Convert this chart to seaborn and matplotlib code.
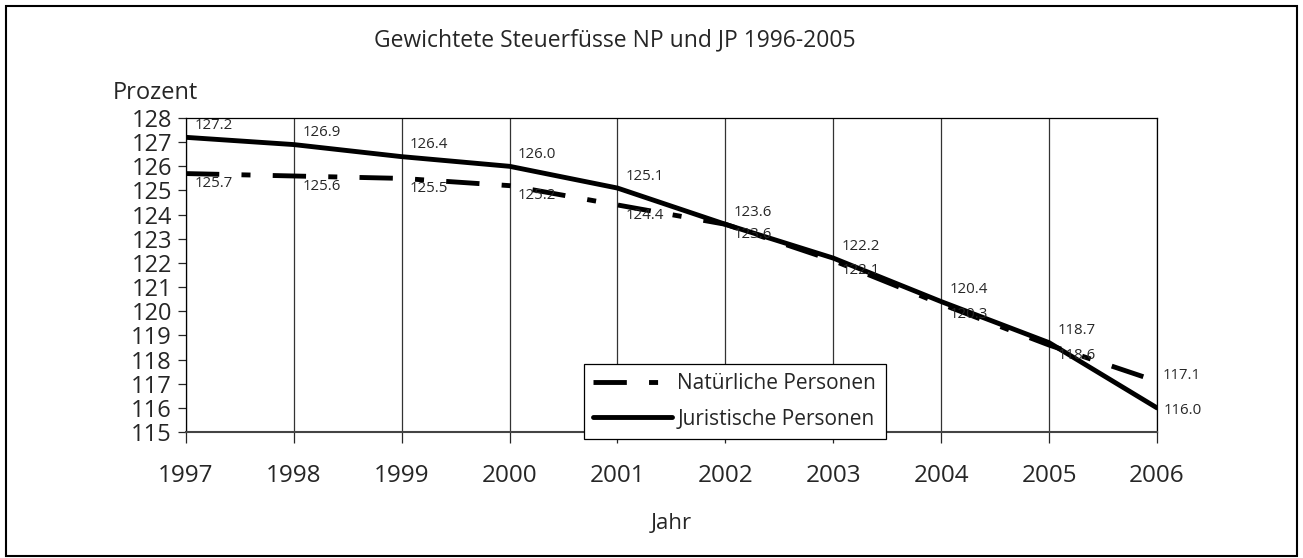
import pandas as pd
import seaborn as sns
import matplotlib.pyplot as plt
from matplotlib.patches import Rectangle

jahre = [1997, 1998, 1999, 2000, 2001, 2002, 2003, 2004, 2005, 2006]
np_werte = [125.7, 125.6, 125.5, 125.2, 124.4, 123.6, 122.1, 120.3, 118.6, 117.1]
jp_werte = [127.2, 126.9, 126.4, 126.0, 125.1, 123.6, 122.2, 120.4, 118.7, 116.0]
serien = ['Natürliche Personen', 'Juristische Personen']
y_ticks = list(range(115, 129))

if __name__ == "__main__":
    sns.set_style('white')
    plt.rcParams['font.family'] = ['Open Sans', 'DejaVu Sans']
    plt.rcParams['lines.scale_dashes'] = False

    df = pd.DataFrame({
        'Jahr': jahre * 2,
        'Prozent': np_werte + jp_werte,
        'Serie': [serien[0]] * len(jahre) + [serien[1]] * len(jahre),
    })

    fig = plt.figure(figsize=(13.03, 5.58), dpi=100)
    ax = fig.add_axes([0.1427, 0.2258, 0.7452, 0.5627])
    sns.lineplot(data=df, x='Jahr', y='Prozent', style='Serie', style_order=serien,
                 dashes={serien[0]: (24, 16, 6.5, 16), serien[1]: ''},
                 color='black', linewidth=3.5, legend=False, ax=ax)

    ax.set_xlim(1997, 2006)
    ax.set_ylim(115, 128)
    ax.set_xticks(jahre)
    ax.set_yticks(y_ticks)
    ax.grid(axis='x', color='#333333', linewidth=0.9)
    for s in ax.spines.values():
        s.set_color('black')
        s.set_linewidth(0.9)
    ax.spines['bottom'].set_color('#444444')
    ax.spines['bottom'].set_linewidth(1.5)
    ax.tick_params(axis='y', direction='out', length=6, width=0.9, pad=4,
                   labelsize=17, left=True)
    ax.tick_params(axis='x', direction='out', length=8, width=0.9, pad=15,
                   labelsize=17.5, bottom=True)
    ax.set_xlabel('Jahr', fontsize=16, labelpad=18)
    ax.set_ylabel('')

    # Datenbeschriftungen
    for i, (x, v) in enumerate(zip(jahre, np_werte)):
        if i == len(jahre) - 1:
            ax.annotate(f'{v:.1f}', (x, v), xytext=(4, 4), textcoords='offset points',
                        ha='left', va='center', fontsize=10.8)
        else:
            ax.annotate(f'{v:.1f}', (x, v), xytext=(6, -2), textcoords='offset points',
                        ha='left', va='top', fontsize=10.8)
    for i, (x, v) in enumerate(zip(jahre, jp_werte)):
        if i == len(jahre) - 1:
            ax.annotate(f'{v:.1f}', (x, v), xytext=(5, -2), textcoords='offset points',
                        ha='left', va='center', fontsize=10.8)
        else:
            ax.annotate(f'{v:.1f}', (x, v), xytext=(6, 3), textcoords='offset points',
                        ha='left', va='bottom', fontsize=10.8)

    fig.text(0.119, 0.833, 'Prozent', fontsize=17, ha='center', va='center')
    fig.text(0.472, 0.928, 'Gewichtete Steuerfüsse NP und JP 1996-2005',
             fontsize=16.5, ha='center', va='center')

    leg = ax.legend(handles=ax.lines[:2], labels=serien, loc='lower left',
                    bbox_to_anchor=(0.448, 0.2133), bbox_transform=fig.transFigure,
                    borderaxespad=0, fontsize=15, handlelength=3.8,
                    handletextpad=0.25, borderpad=0.45, labelspacing=0.7,
                    fancybox=False, framealpha=1, edgecolor='black')
    leg.get_frame().set_linewidth(0.9)

    fig.patches.append(Rectangle((0.0046, 0.0036), 0.9908, 0.9856, transform=fig.transFigure,
                                 fill=False, edgecolor='black', linewidth=1.5))

    plt.savefig('out.png', dpi=100)
